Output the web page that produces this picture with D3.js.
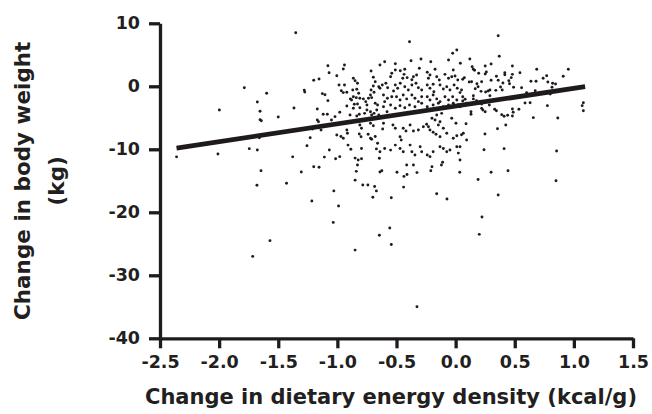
<!DOCTYPE html>
<html>
<head>
<meta charset="utf-8">
<style>
  body { margin: 0; background: #fff; }
  svg text { font-family: "DejaVu Sans", sans-serif; font-weight: bold; fill: #231f20; }
</style>
</head>
<body>
<svg id="chart"></svg>
<script src="https://d3js.org/d3.v7.min.js"></script>
<script>
// change in energy density (kcal/g) vs change in body weight (kg)
var points = [
  [-1.352,8.5],[-1.787,-0.22],[-1.598,-1.1],[-1.28,-0.6],[-1.276,-0.9],[-1.998,-3.76],[-1.677,-2.49],
  [-1.654,-3.97],[-1.367,-3.44],[-1.654,-5.3],[-1.643,-5.46],[-1.5,-4.87],[-1.66,-8.16],[-1.257,-9.43],
  [-2.36,-11.2],[-2.01,-10.75],[-1.745,-9.9],[-1.677,-10.1],[-1.378,-11.2],[-1.646,-13.4],[-1.305,-13.6],
  [-1.68,-15.7],[-1.43,-15.4],[-1.57,-24.5],[-1.716,-27.0],
  [-0.84,-13.5],[-0.64,-13.6],[-0.624,-13.4],[-0.496,-13.65],[-0.437,-14.3],[-0.411,-14.0],[-0.327,-13.7],
  [-0.21,-13.4],[0.035,-13.65],[-0.85,-14.9],[-1.03,-16.6],[-1.216,-18.2],[-0.99,-19.0],[-1.035,-21.6],
  [-0.785,-15.67],[-0.742,-15.67],[-0.685,-15.9],[-0.67,-16.6],[-0.70,-17.6],[-0.544,-17.7],[-0.44,-16.0],
  [-0.16,-17.05],[-0.073,-17.9],[-0.557,-22.5],[-0.645,-23.65],[-0.544,-25.1],[-0.85,-26.0],[-0.327,-35.0],
  [0.30,-13.65],[0.443,-13.4],[0.19,-14.8],[0.849,-15.0],[0.36,-17.25],[0.223,-20.75],[0.20,-23.5],
  [0.36,8.03],[0.369,4.76],[0.953,2.7],[0.91,1.59],[0.686,2.7],[0.77,1.68],[0.74,1.27],[0.637,0.79],
  [0.68,0.79],[0.78,0.68],[0.82,0.48],[0.845,0.37],[0.815,-0.16],[0.80,-1.22],[0.776,-3.07],[0.864,-5.03],
  [0.657,-4.98],[1.08,-2.6],[1.07,-3.07],[1.08,-3.87],[0.854,-10.27],[0.544,2.16],[0.558,-0.22],[0.60,-1.0],
  [0.673,-0.7],[0.587,-2.65],[0.63,-2.6],[0.535,-3.65],[0.48,-3.6],[0.487,-4.13],[0.48,-4.71],[0.44,-4.6],
  [0.41,-4.76],[0.39,-4.5],[0.424,-6.14],[0.354,-6.73],[0.248,-7.57],[0.088,-5.94],[0.093,-8.52],[0.05,-7.7],
  [0.065,-7.46],[0.24,-10.06],[0.41,-9.9],[0.037,-9.6],[0.037,-11.7],
  [0.48,3.22],[0.30,3.54],[0.12,4.33],[0.04,3.65],[0.25,3.22],[0.26,2.27],[0.25,1.95],[0.14,3.1],[0.15,2.7],
  [0.16,2.54],[0.195,2.06],[0.416,2.16],[0.416,1.84],[0.48,1.9],[0.47,1.37],[0.345,1.59],[0.36,0.95],
  [0.45,0.89],[0.456,0.41],[0.49,-0.16],[0.40,0.52],[0.30,0.95],[0.115,0.68],[0.135,0.73],[0.074,1.37],
  [0.06,1.11],[0.22,0.73],[0.18,0.41],[0.19,-0.06],[0.166,-0.38],[0.215,-0.8],[0.254,-0.9],[0.275,-0.75],
  [0.29,-0.59],[0.38,-0.1],[0.394,-0.59],[0.34,-0.64],[0.29,-1.49],[0.15,-1.49],[0.15,-2.0],[0.05,-0.59],
  [0.037,-1.0],[0.06,-1.65],[0.08,-2.06],[0.177,-2.28],[0.093,-2.7],[0.06,-2.33],[0.22,-2.81],[0.285,-2.97],
  [0.037,-3.24],[0.22,-3.5],[0.23,-3.76],[0.13,-4.03],[0.13,-4.44],[0.25,-4.03],[0.33,-3.65],[0.345,-3.87],
  [-1.08,3.27],[-0.94,3.38],[-0.95,2.75],[-1.07,2.16],[-1.005,1.68],[-0.715,2.43],[-0.64,3.38],[-1.2,0.95],
  [-1.155,1.16],[-1.127,-1.17],[-1.105,-1.33],[-1.08,-2.28],[-0.986,0.2],[-0.94,0.2],[-0.865,1.27],
  [-0.85,0.89],[-0.83,0.48],[-0.967,-0.7],[-0.95,-1.0],[-0.92,-0.95],[-0.87,-0.59],[-0.836,-0.48],
  [-0.82,-1.11],[-0.696,1.43],[-0.68,0.73],[-0.65,-0.06],[-0.696,0.05],[-0.715,-0.59],[-0.69,-0.95],
  [-0.72,-1.38],[-0.737,-1.9],[-0.71,-1.8],[-0.865,-1.65],[-0.84,-1.8],[-0.88,-2.17],[-0.89,-2.0],
  [-0.81,-1.9],[-0.78,-2.0],[-0.76,-2.44],[-0.857,-2.86],[-0.83,-2.8],[-0.92,-3.13],[-0.81,-3.4],
  [-0.75,-2.97],[-0.68,-2.7],[-0.66,-2.97],[-1.17,-3.6],[-0.64,-0.32],[-0.865,-3.49],
  [-0.39,7.08],[-0.6,3.9],[-0.51,3.59],[-0.377,4.06],[-0.293,4.33],[-0.21,3.9],[-0.06,4.17],[-0.025,5.24],
  [0.01,5.76],[-0.307,2.86],[-0.174,2.7],[-0.02,2.59],[-0.51,2.59],[-0.468,2.48],[-0.43,2.7],[-0.54,2.06],
  [-0.55,1.52],[-0.436,1.9],[-0.41,1.37],[-0.447,1.27],[-0.357,1.52],[-0.33,1.79],[-0.37,1.05],[-0.24,2.22],
  [-0.217,1.79],[-0.23,1.27],[-0.16,1.52],[-0.138,1.0],[-0.09,1.9],[-0.06,1.27],[-0.033,1.52],[-0.005,1.63],
  [0.018,1.0],[-0.62,0.2],[-0.59,0.48],[-0.575,-0.22],[-0.51,0.2],[-0.49,-0.32],[-0.525,-0.75],[-0.468,0.48],
  [-0.43,-0.06],[-0.40,-0.59],[-0.37,0.2],[-0.335,0.48],[-0.315,-0.22],[-0.287,-0.59],[-0.24,0.2],
  [-0.217,-0.32],[-0.19,0.32],[-0.184,-0.86],[-0.132,0.2],[-0.104,-0.43],[-0.075,-0.06],[-0.048,-0.59],
  [-0.013,0.2],[0.014,-0.32],[-0.61,-1.38],[-0.577,-1.9],[-0.54,-1.65],[-0.6,-2.44],[-0.5,-1.65],[-0.47,-2.17],
  [-0.443,-1.38],[-0.414,-2.0],[-0.37,-1.38],[-0.344,-1.9],[-0.315,-2.44],[-0.287,-1.65],[-0.24,-1.65],
  [-0.217,-2.17],[-0.19,-1.38],[-0.16,-2.0],[-0.132,-2.44],[-0.09,-1.65],[-0.06,-2.17],[-0.025,-1.65],
  [0.01,-2.17],[-0.61,-3.24],[-0.55,-2.97],[-0.51,-3.49],[-0.47,-3.08],[-0.43,-3.4],[-0.39,-2.97],
  [-0.344,-3.24],[-0.287,-2.7],[-0.24,-3.24],[-0.19,-2.97],[-0.146,-2.7],[-0.104,-3.24],[-0.06,-2.97],
  [-0.02,-2.7],[0.023,-2.97],
  [-1.12,-4.44],[-1.085,-4.44],[-1.17,-5.35],[-1.16,-5.62],[-1.05,-5.35],[-1.02,-4.82],[-0.98,-4.13],
  [-0.893,-4.56],[-0.836,-4.71],[-0.815,-4.44],[-0.77,-4.29],[-0.75,-3.76],[-0.72,-4.03],[-0.71,-4.56],
  [-0.69,-4.29],[-0.667,-3.76],[-0.65,-4.56],[-1.21,-6.78],[-1.16,-6.57],[-1.138,-6.94],[-1.23,-8.16],
  [-1.068,-10.11],[-1.11,-11.24],[-1.015,-11.5],[-0.98,-11.17],[-1.005,-7.73],[-0.97,-7.98],[-0.95,-8.25],
  [-0.92,-6.94],[-0.915,-7.46],[-0.91,-9.33],[-0.886,-10.0],[-0.85,-11.4],[-0.824,-11.7],[-0.796,-11.5],
  [-0.83,-12.49],[-1.2,-12.76],[-1.155,-12.86],[-0.815,-7.57],[-0.80,-8.0],[-0.796,-9.87],[-0.74,-7.62],
  [-0.72,-8.25],[-0.71,-8.41],[-0.68,-7.98],[-0.66,-9.05],[-0.67,-9.94],[-0.64,-10.38],[-0.645,-11.43],
  [-0.81,-6.14],[-0.796,-6.67],[-0.72,-5.87],[-0.696,-6.25],
  [-0.58,-4.03],[-0.61,-5.87],[-0.617,-6.78],[-0.53,-6.14],[-0.51,-6.67],[-0.443,-6.67],[-0.42,-7.1],
  [-0.47,-8.0],[-0.46,-8.52],[-0.385,-6.14],[-0.357,-7.1],[-0.315,-6.94],[-0.273,-6.41],[-0.245,-6.03],
  [-0.23,-6.41],[-0.217,-6.94],[-0.19,-7.3],[-0.166,-7.62],[-0.2,-5.08],[-0.174,-5.35],[-0.16,-4.56],
  [-0.118,-4.29],[-0.132,-5.62],[-0.146,-6.14],[-0.104,-6.67],[-0.075,-7.46],[-0.132,-8.0],[-0.033,-5.08],
  [0.003,-5.87],[-0.02,-8.25],[0.01,-7.84],[-0.6,-9.87],[-0.55,-10.13],[-0.51,-9.33],[-0.47,-9.87],
  [-0.443,-10.38],[-0.385,-9.33],[-0.37,-10.38],[-0.344,-10.9],[-0.3,-9.6],[-0.287,-10.38],[-0.24,-10.9],
  [-0.217,-11.17],[-0.19,-10.38],[-0.132,-9.6],[-0.104,-9.87],[-0.075,-10.38],[-0.048,-10.1],[0.01,-9.6],
  [0.023,-10.6],[-0.414,-12.49],[-0.357,-12.49],[-0.2,-12.76],[-0.12,-12.49],[-0.11,-12.06]
];
var fitLine = [[-2.36, -9.8], [1.095, -0.05]];   // regression line ends
var xTicks = [-2.5, -2.0, -1.5, -1.0, -0.5, 0.0, 0.5, 1.0, 1.5];
var yTicks = [10, 0, -10, -20, -30, -40];

var width = 652, height = 414;
var svg = d3.select("#chart").attr("width", width).attr("height", height);

var x = d3.scaleLinear().domain([-2.5, 1.5]).range([160, 633]);
var y = d3.scaleLinear().domain([-40, 10]).range([338.3, 23.3]);
var ink = "#1f1b1c";

// axes
var xAxis = d3.axisBottom(x).tickValues(xTicks).tickSize(10).tickSizeOuter(0).tickPadding(7)
  .tickFormat(function(d){ return d.toFixed(1); });
var yAxis = d3.axisLeft(y).tickValues(yTicks).tickSize(11).tickSizeOuter(0).tickPadding(9)
  .tickFormat(function(d){ return String(d); });

var gx = svg.append("g").attr("transform", "translate(0," + y(-40) + ")").call(xAxis);
var gy = svg.append("g").attr("transform", "translate(" + x(-2.5) + ",0)").call(yAxis);

[gx, gy].forEach(function(g){
  g.select(".domain").attr("stroke", ink).attr("stroke-width", 3.3);
  g.selectAll(".tick line").attr("stroke", ink).attr("stroke-width", 3.3);
  g.selectAll(".tick text").attr("font-size", 17.5).attr("font-family", null).attr("fill", ink);
});

// points
svg.append("g").selectAll("circle").data(points).join("circle")
  .attr("cx", function(d){ return x(d[0]); })
  .attr("cy", function(d){ return y(d[1]); })
  .attr("r", 1.45)
  .attr("fill", ink);

// fitted line
svg.append("path")
  .attr("d", d3.line().x(function(d){ return x(d[0]); }).y(function(d){ return y(d[1]); })(fitLine))
  .attr("stroke", ink).attr("stroke-width", 4.8).attr("fill", "none");

// titles
svg.append("text").attr("x", 391).attr("y", 404).attr("text-anchor", "middle")
  .attr("font-size", 21).text("Change in dietary energy density (kcal/g)");

var cy = (y(10) + y(-40)) / 2;
svg.append("text").attr("transform", "translate(30," + cy + ") rotate(-90)")
  .attr("text-anchor", "middle").attr("font-size", 21.5).text("Change in body weight");
svg.append("text").attr("transform", "translate(64," + cy + ") rotate(-90)")
  .attr("text-anchor", "middle").attr("font-size", 21.5).text("(kg)");
</script>
</body>
</html>
